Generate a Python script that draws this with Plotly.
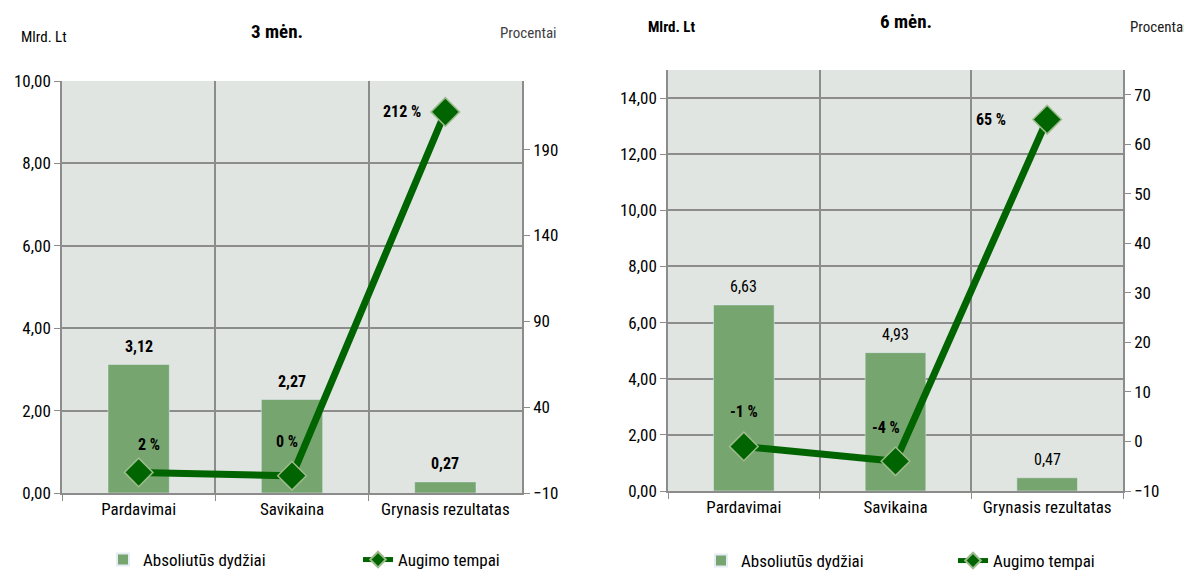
import plotly.graph_objects as go

categories = ["Pardavimai", "Savikaina", "Grynasis rezultatas"]
abs_3m = [3.12, 2.27, 0.27]
growth_3m = [2, 0, 212]
abs_6m = [6.63, 4.93, 0.47]
growth_6m = [-1, -4, 65]

left_ticks = [0, 2, 4, 6, 8, 10]
right_ticks_3m = [-10, 40, 90, 140, 190]
left_ticks_6m = [0, 2, 4, 6, 8, 10, 12, 14]
right_ticks_6m = [-10, 0, 10, 20, 30, 40, 50, 60, 70]

W, H = 1192, 572
OFF = 8  # default page body margin
FW, FH = W - OFF, H - OFF
FONT = "Liberation Sans Narrow, Arial Narrow, Roboto Condensed, DejaVu Sans Condensed, sans-serif"
BAR = "#77a56f"
LINE = "#006400"
GRID = "#8c8c8c"
BG = "#e0e5e1"


def px(x):
    return (x - OFF) / FW


def py(y):
    return 1 - (y - OFF) / FH


def fmt(v):
    return f"{v:.2f}".replace(".", ",")


fig = go.Figure()

marker = dict(symbol="diamond", size=22, color=LINE, line=dict(color="#9dbb8c", width=1.5))

# 3 months
fig.add_trace(go.Bar(x=categories, y=abs_3m, marker_color=BAR, name="Absoliutūs dydžiai",
                     xaxis="x", yaxis="y", legend="legend", width=0.4))
fig.add_trace(go.Scatter(x=categories, y=growth_3m, mode="lines+markers", name="Augimo tempai",
                         line=dict(color=LINE, width=7), marker=marker,
                         xaxis="x", yaxis="y2", legend="legend"))
# 6 months
fig.add_trace(go.Bar(x=categories, y=abs_6m, marker_color=BAR, name="Absoliutūs dydžiai",
                     xaxis="x2", yaxis="y3", legend="legend2", width=0.4))
fig.add_trace(go.Scatter(x=categories, y=growth_6m, mode="lines+markers", name="Augimo tempai",
                         line=dict(color=LINE, width=7), marker=marker,
                         xaxis="x2", yaxis="y4", legend="legend2"))

ann = []
# bar value labels
for c, v in zip(categories, abs_3m):
    ann.append(dict(x=c, y=v, xref="x", yref="y", text=f"<b>{fmt(v)}</b>", showarrow=False,
                    yshift=18, font=dict(size=16, color="black", family=FONT)))
for c, v in zip(categories, abs_6m):
    ann.append(dict(x=c, y=v, xref="x2", yref="y3", text=fmt(v), showarrow=False,
                    yshift=18, font=dict(size=16, color="black", family=FONT)))
# growth labels
shifts_3m = [(10, 28), (-5, 34), (-43, 0)]
for c, v, (dx, dy) in zip(categories, growth_3m, shifts_3m):
    ann.append(dict(x=c, y=v, xref="x", yref="y2", text=f"<b>{v} %</b>", showarrow=False,
                    xshift=dx, yshift=dy, font=dict(size=16, color="black", family=FONT)))
shifts_6m = [(0, 35), (-10, 34), (-56, 0)]
for c, v, (dx, dy) in zip(categories, growth_6m, shifts_6m):
    ann.append(dict(x=c, y=v, xref="x2", yref="y4", text=f"<b>{v} %</b>", showarrow=False,
                    xshift=dx, yshift=dy, font=dict(size=16, color="black", family=FONT)))


def label(x, y, text, size=15, color="black", xanchor="center"):
    return dict(x=px(x), y=py(y), xref="paper", yref="paper", text=text, showarrow=False,
                xanchor=xanchor, yanchor="middle", font=dict(size=size, color=color, family=FONT))


ann += [
    label(277, 32, "<b>3 mėn.</b>", size=19),
    label(44, 37, "Mlrd. Lt"),
    label(528, 33, "Procentai", color="#404040"),
    label(906, 22, "<b>6 mėn.</b>", size=19),
    label(671, 27, "<b>Mlrd. Lt</b>"),
    label(1128, 27, "Procentai", color="#202020", xanchor="left"),
]

tickfont = dict(size=17, color="black", family=FONT)

xcommon = dict(type="category", tickson="boundaries", showgrid=True, gridcolor=GRID, gridwidth=1.5,
               ticks="outside", ticklen=6, tickcolor=GRID, showline=True, linecolor=GRID,
               linewidth=1.5, tickfont=tickfont, fixedrange=True)
ycommon = dict(showgrid=True, gridcolor=GRID, gridwidth=1.5, ticks="outside", ticklen=6,
               tickcolor=GRID, showline=True, linecolor=GRID, linewidth=1.5, tickfont=tickfont,
               zeroline=False, tickformat=".2f")
y2common = dict(showgrid=False, ticks="outside", ticklen=6, tickcolor=GRID, showline=True,
                linecolor=GRID, linewidth=1.5, tickfont=tickfont, zeroline=False, side="right")

fig.update_layout(
    width=FW, height=FH,
    margin=dict(l=0, r=0, t=0, b=0, autoexpand=False),
    paper_bgcolor="white",
    plot_bgcolor=BG,
    separators=", ",
    font=dict(family=FONT, size=16, color="black"),
    xaxis=dict(domain=[px(62), px(522)], anchor="y", **xcommon),
    yaxis=dict(domain=[py(493), py(81)], anchor="x", range=[0, 10], tickvals=left_ticks, **ycommon),
    yaxis2=dict(overlaying="y", anchor="x", range=[-10, 230], tickvals=right_ticks_3m, **y2common),
    xaxis2=dict(domain=[px(668), px(1123)], anchor="y3", **xcommon),
    yaxis3=dict(domain=[py(491), py(70)], anchor="x2", range=[0, 15], tickvals=left_ticks_6m, **ycommon),
    yaxis4=dict(overlaying="y3", anchor="x2", range=[-10, 75], tickvals=right_ticks_6m, **y2common),
    annotations=ann,
    legend=dict(orientation="h", x=px(103), y=py(560), xanchor="left", yanchor="middle",
                entrywidth=210, entrywidthmode="pixels", font=dict(size=17, family=FONT),
                itemsizing="constant", bgcolor="rgba(0,0,0,0)"),
    legend2=dict(orientation="h", x=px(701), y=py(561), xanchor="left", yanchor="middle",
                 entrywidth=207, entrywidthmode="pixels", font=dict(size=17, family=FONT),
                 itemsizing="constant", bgcolor="rgba(0,0,0,0)"),
    showlegend=True,
)

fig.write_html("out.html")
